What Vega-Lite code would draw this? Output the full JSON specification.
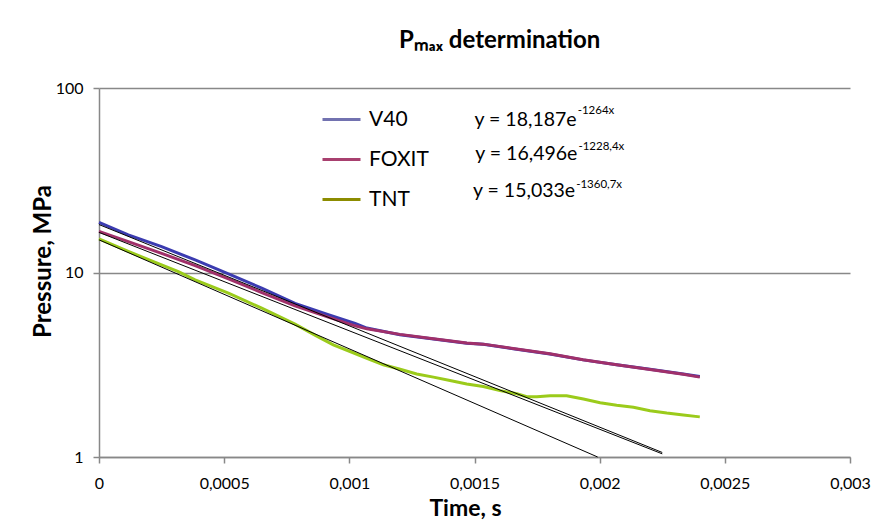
{
  "$schema": "https://vega.github.io/schema/vega-lite/v6.json",
  "width": 751,
  "height": 369,
  "autosize": {"type": "none"},
  "padding": {"left": 99, "top": 88, "right": 34, "bottom": 68},
  "background": "white",
  "config": {
    "font": "Lato",
    "view": {"stroke": null},
    "text": {"font": "Lato", "color": "black"}
  },
  "title": {
    "text": "Pₘₐₓ determination",
    "anchor": "start",
    "frame": "group",
    "dx": 300,
    "offset": 8,
    "baseline": "alphabetic",
    "fontSize": 24,
    "fontWeight": "bold",
    "font": "Lato",
    "color": "black"
  },
  "datasets": {
    "series": [
      {"series": "V40", "t": 0, "p": 18.7},
      {"series": "V40", "t": 0.000117, "p": 16.0},
      {"series": "V40", "t": 0.00025, "p": 13.8},
      {"series": "V40", "t": 0.000384, "p": 11.7},
      {"series": "V40", "t": 0.000517, "p": 9.83},
      {"series": "V40", "t": 0.00065, "p": 8.23},
      {"series": "V40", "t": 0.000783, "p": 6.8},
      {"series": "V40", "t": 0.000916, "p": 5.9},
      {"series": "V40", "t": 0.001023, "p": 5.3},
      {"series": "V40", "t": 0.00107, "p": 5.0},
      {"series": "V40", "t": 0.001202, "p": 4.6},
      {"series": "V40", "t": 0.001336, "p": 4.36},
      {"series": "V40", "t": 0.001469, "p": 4.14},
      {"series": "V40", "t": 0.001535, "p": 4.08},
      {"series": "V40", "t": 0.001668, "p": 3.84},
      {"series": "V40", "t": 0.001801, "p": 3.62},
      {"series": "V40", "t": 0.001934, "p": 3.36},
      {"series": "V40", "t": 0.002068, "p": 3.16},
      {"series": "V40", "t": 0.002201, "p": 2.99},
      {"series": "V40", "t": 0.002334, "p": 2.82},
      {"series": "V40", "t": 0.0024, "p": 2.73},
      {"series": "FOXIT", "t": 0, "p": 16.7},
      {"series": "FOXIT", "t": 0.000117, "p": 14.7},
      {"series": "FOXIT", "t": 0.00025, "p": 12.7},
      {"series": "FOXIT", "t": 0.000384, "p": 10.9},
      {"series": "FOXIT", "t": 0.000517, "p": 9.24},
      {"series": "FOXIT", "t": 0.00065, "p": 7.78},
      {"series": "FOXIT", "t": 0.000783, "p": 6.59},
      {"series": "FOXIT", "t": 0.000916, "p": 5.73},
      {"series": "FOXIT", "t": 0.001023, "p": 5.14},
      {"series": "FOXIT", "t": 0.00107, "p": 4.95},
      {"series": "FOXIT", "t": 0.001202, "p": 4.62},
      {"series": "FOXIT", "t": 0.001336, "p": 4.37},
      {"series": "FOXIT", "t": 0.001469, "p": 4.15},
      {"series": "FOXIT", "t": 0.001535, "p": 4.09},
      {"series": "FOXIT", "t": 0.001668, "p": 3.85},
      {"series": "FOXIT", "t": 0.001801, "p": 3.63},
      {"series": "FOXIT", "t": 0.001934, "p": 3.37},
      {"series": "FOXIT", "t": 0.002068, "p": 3.16},
      {"series": "FOXIT", "t": 0.002201, "p": 2.98},
      {"series": "FOXIT", "t": 0.002334, "p": 2.81},
      {"series": "FOXIT", "t": 0.0024, "p": 2.71},
      {"series": "TNT", "t": 0, "p": 15.2},
      {"series": "TNT", "t": 0.000117, "p": 13.0},
      {"series": "TNT", "t": 0.00025, "p": 11.0},
      {"series": "TNT", "t": 0.000317, "p": 10.1},
      {"series": "TNT", "t": 0.000384, "p": 9.12},
      {"series": "TNT", "t": 0.000517, "p": 7.73},
      {"series": "TNT", "t": 0.00065, "p": 6.41},
      {"series": "TNT", "t": 0.000783, "p": 5.25},
      {"series": "TNT", "t": 0.00087, "p": 4.52},
      {"series": "TNT", "t": 0.000936, "p": 4.05},
      {"series": "TNT", "t": 0.001003, "p": 3.73},
      {"series": "TNT", "t": 0.00107, "p": 3.43},
      {"series": "TNT", "t": 0.001136, "p": 3.16},
      {"series": "TNT", "t": 0.001203, "p": 2.99},
      {"series": "TNT", "t": 0.001269, "p": 2.82},
      {"series": "TNT", "t": 0.001336, "p": 2.71},
      {"series": "TNT", "t": 0.001402, "p": 2.6},
      {"series": "TNT", "t": 0.001469, "p": 2.49},
      {"series": "TNT", "t": 0.001535, "p": 2.41},
      {"series": "TNT", "t": 0.001602, "p": 2.29},
      {"series": "TNT", "t": 0.001669, "p": 2.2},
      {"series": "TNT", "t": 0.001709, "p": 2.12},
      {"series": "TNT", "t": 0.001749, "p": 2.12},
      {"series": "TNT", "t": 0.001802, "p": 2.15},
      {"series": "TNT", "t": 0.001868, "p": 2.15},
      {"series": "TNT", "t": 0.001935, "p": 2.06},
      {"series": "TNT", "t": 0.002002, "p": 1.97},
      {"series": "TNT", "t": 0.002068, "p": 1.91},
      {"series": "TNT", "t": 0.002135, "p": 1.86},
      {"series": "TNT", "t": 0.002201, "p": 1.78},
      {"series": "TNT", "t": 0.002268, "p": 1.73},
      {"series": "TNT", "t": 0.002334, "p": 1.69},
      {"series": "TNT", "t": 0.0024, "p": 1.65}
    ],
    "fits": [
      {"fit": "V40", "t": 0, "p": 18.187},
      {"fit": "V40", "t": 0.00225, "p": 1.058},
      {"fit": "FOXIT", "t": 0, "p": 16.496},
      {"fit": "FOXIT", "t": 0.00225, "p": 1.04},
      {"fit": "TNT", "t": 0, "p": 15.033},
      {"fit": "TNT", "t": 0.001992, "p": 1.0}
    ],
    "eqs": [
      {"eq": "y = 18,187e", "sup": "-1264x", "t": 0.001908, "p": 61.9, "ps": 72.3},
      {"eq": "y = 16,496e", "sup": "-1228,4x", "t": 0.001911, "p": 40.5, "ps": 46.3},
      {"eq": "y = 15,033e", "sup": "-1360,7x", "t": 0.001902, "p": 25.8, "ps": 28.7}
    ]
  },
  "resolve": {"scale": {"color": "independent", "stroke": "independent"}},
  "layer": [
    {
      "data": {"name": "series"},
      "mark": {"type": "line", "strokeWidth": 3},
      "encoding": {
        "x": {
          "field": "t",
          "type": "quantitative",
          "scale": {"domain": [0, 0.003], "nice": false, "zero": false},
          "axis": {
            "values": [0, 0.0005, 0.001, 0.0015, 0.002, 0.0025, 0.003],
            "labelExpr": "replace(toString(datum.value), '.', ',')",
            "grid": false,
            "domainColor": "#888888",
            "domainWidth": 1.5,
            "tickColor": "#888888",
            "tickWidth": 1.5,
            "tickSize": 6,
            "labelFont": "Lato",
            "labelFontSize": 16,
            "labelColor": "black",
            "labelPadding": 12,
            "labelFlush": false,
            "labelOverlap": false,
            "title": "Time, s",
            "titleFont": "Lato",
            "titleFontSize": 23,
            "titleFontWeight": "bold",
            "titleColor": "black",
            "titleX": 366,
            "titleY": 51,
            "titleAlign": "center",
            "titleBaseline": "middle"
          }
        },
        "y": {
          "field": "p",
          "type": "quantitative",
          "scale": {"type": "log", "domain": [1, 100], "nice": false},
          "axis": {
            "values": [1, 10, 100],
            "format": "d",
            "grid": true,
            "gridColor": "#888888",
            "gridWidth": 1.5,
            "domainColor": "#888888",
            "domainWidth": 1.5,
            "tickColor": "#888888",
            "tickWidth": 1.5,
            "tickSize": 6,
            "labelFont": "Lato",
            "labelFontSize": 16,
            "labelColor": "black",
            "labelPadding": 10,
            "title": "Pressure, MPa",
            "titleFont": "Lato",
            "titleFontSize": 24,
            "titleFontWeight": "bold",
            "titleColor": "black",
            "titleAngle": -90,
            "titleX": -56,
            "titleY": 173,
            "titleAlign": "center",
            "titleBaseline": "middle"
          }
        },
        "stroke": {
          "field": "series",
          "type": "nominal",
          "scale": {"domain": ["V40", "FOXIT", "TNT"], "range": ["#3b3bb0", "#a0306a", "#9bcb1b"]},
          "legend": null
        }
      }
    },
    {
      "data": {"name": "series"},
      "transform": [{"filter": "datum.t < 0"}],
      "mark": {"type": "line", "strokeWidth": 3},
      "encoding": {
        "x": {"field": "t", "type": "quantitative"},
        "y": {"field": "p", "type": "quantitative"},
        "color": {
          "field": "series",
          "type": "nominal",
          "scale": {"domain": ["V40", "FOXIT", "TNT"], "range": ["#7272b0", "#a8406f", "#8c8c00"]},
          "legend": {
            "orient": "none",
            "legendX": 222,
            "legendY": 11,
            "title": null,
            "padding": 0,
            "symbolType": "stroke",
            "symbolSize": 1444,
            "symbolStrokeWidth": 3,
            "symbolOpacity": 1,
            "labelFont": "Lato",
            "labelFontSize": 21,
            "labelColor": "black",
            "labelOffset": 7,
            "rowPadding": 9
          }
        }
      }
    },
    {
      "data": {"name": "fits"},
      "mark": {"type": "line", "color": "black", "strokeWidth": 1},
      "encoding": {
        "x": {"field": "t", "type": "quantitative"},
        "y": {"field": "p", "type": "quantitative"},
        "detail": {"field": "fit", "type": "nominal"}
      }
    },
    {
      "data": {"name": "eqs"},
      "mark": {"type": "text", "align": "right", "baseline": "alphabetic", "fontSize": 19.5, "font": "Lato", "color": "black"},
      "encoding": {
        "x": {"field": "t", "type": "quantitative"},
        "y": {"field": "p", "type": "quantitative"},
        "text": {"field": "eq"}
      }
    },
    {
      "data": {"name": "eqs"},
      "mark": {"type": "text", "align": "left", "baseline": "alphabetic", "fontSize": 11.5, "font": "Lato", "color": "black", "dx": 1},
      "encoding": {
        "x": {"field": "t", "type": "quantitative"},
        "y": {"field": "ps", "type": "quantitative"},
        "text": {"field": "sup"}
      }
    }
  ]
}
